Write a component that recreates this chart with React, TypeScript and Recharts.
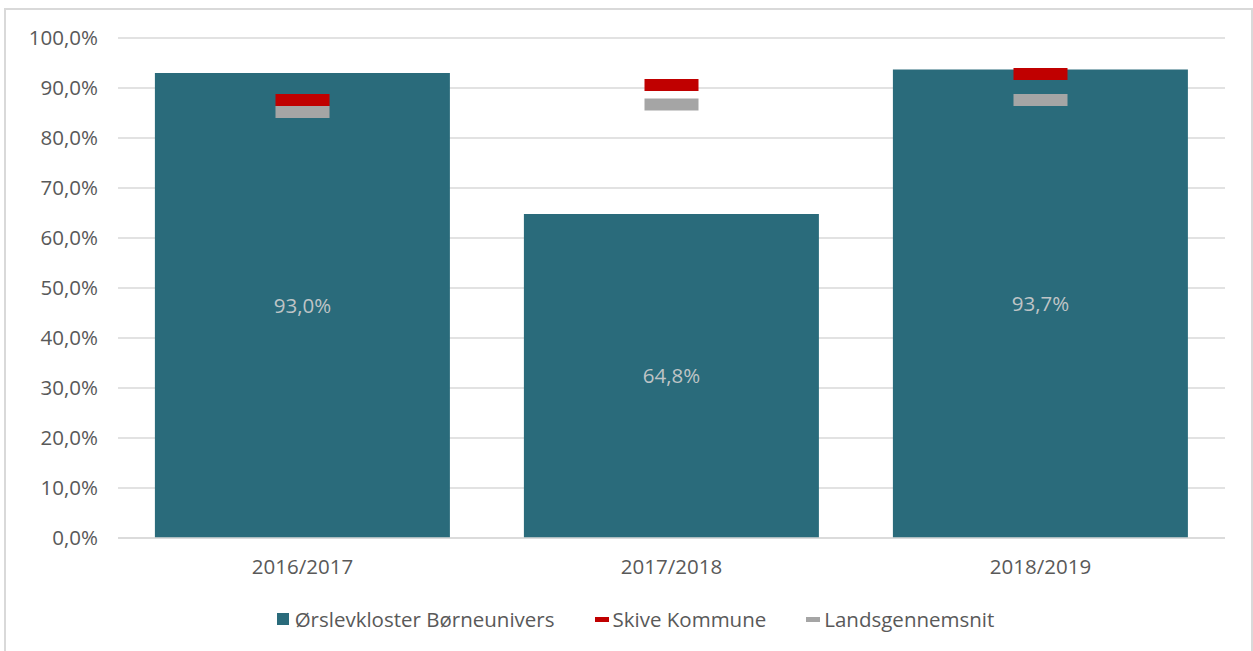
import React from 'react';
import {
  ComposedChart,
  Bar,
  Line,
  XAxis,
  YAxis,
  CartesianGrid,
  LabelList,
} from 'recharts';

const categories = ['2016/2017', '2017/2018', '2018/2019'];
const schoolValues = [93.0, 64.8, 93.7];
const skiveValues = [87.6, 90.6, 92.8];
const nationalValues = [85.2, 86.7, 87.6];
const yTicks = [0, 10, 20, 30, 40, 50, 60, 70, 80, 90, 100];

const seriesNames = ['Ørslevkloster Børneunivers', 'Skive Kommune', 'Landsgennemsnit'];
const colors = ['#2a6b7b', '#c00000', '#a5a5a5'];

const data = categories.map((c, i) => ({
  year: c,
  school: schoolValues[i],
  skive: skiveValues[i],
  national: nationalValues[i],
}));

const fmt = (v: number) => v.toFixed(1).replace('.', ',') + '%';

const FONT = '"Open Sans", "Noto Sans", sans-serif';
const FS = 20.5;

// dash marker like Excel's line-marker
const Dash = (color: string) => (props: any) => {
  const { cx, cy } = props;
  if (cx == null || cy == null) return null;
  return <rect x={cx - 27} y={cy - 6} width={54} height={12} fill={color} />;
};

const App: React.FC = () => {
  return (
    <div style={{ position: 'absolute', left: 0, top: 0, width: 1253, height: 651, background: '#fff', overflow: 'hidden', fontFamily: FONT }}>
      <div style={{ position: 'absolute', left: 4, top: 8, width: 1245, height: 660, border: '2px solid #d9d9d9' }} />
      <div style={{ position: 'absolute', left: 0, top: 0 }}>
        <ComposedChart
          width={1253}
          height={600}
          data={data}
          margin={{ top: 38, right: 28, left: 0, bottom: 22 }}
          barCategoryGap="10%"
        >
          <CartesianGrid vertical={false} stroke="#d9d9d9" strokeWidth={1.5} />
          <XAxis
            dataKey="year"
            height={40}
            tickLine={false}
            axisLine={{ stroke: '#d9d9d9', strokeWidth: 1.5 }}
            tick={{ fontSize: FS, fill: '#595959', fontFamily: FONT }}
            tickMargin={15}
          />
          <YAxis
            width={118}
            domain={[0, 100]}
            ticks={yTicks}
            interval={0}
            tickFormatter={fmt}
            tickLine={false}
            axisLine={false}
            tick={{ fontSize: FS, fill: '#595959', fontFamily: FONT }}
            tickMargin={14}
          />
          <Bar dataKey="school" fill={colors[0]} isAnimationActive={false}>
            <LabelList
              dataKey="school"
              position="center"
              formatter={(v: any) => fmt(Number(v))}
              style={{ fontSize: FS, fill: '#bfc4c6', fontFamily: FONT }}
            />
          </Bar>
          <Line dataKey="skive" stroke="none" dot={Dash(colors[1])} activeDot={false} isAnimationActive={false} />
          <Line dataKey="national" stroke="none" dot={Dash(colors[2])} activeDot={false} isAnimationActive={false} />
        </ComposedChart>
      </div>
      <div style={{ position: 'absolute', top: 605, left: 9, width: 1253, display: 'flex', justifyContent: 'center', fontSize: FS, color: '#595959' }}>
        {seriesNames.map((n, i) => (
          <div key={n} style={{ display: 'flex', alignItems: 'center', marginRight: i < 2 ? 40 : 0 }}>
            {i === 0 ? (
              <span style={{ display: 'inline-block', width: 12, height: 12, background: colors[i], marginRight: 6 }} />
            ) : (
              <span style={{ display: 'inline-block', width: 14, height: 5, background: colors[i], marginRight: 4 }} />
            )}
            <span>{n}</span>
          </div>
        ))}
      </div>
    </div>
  );
};

export default App;
